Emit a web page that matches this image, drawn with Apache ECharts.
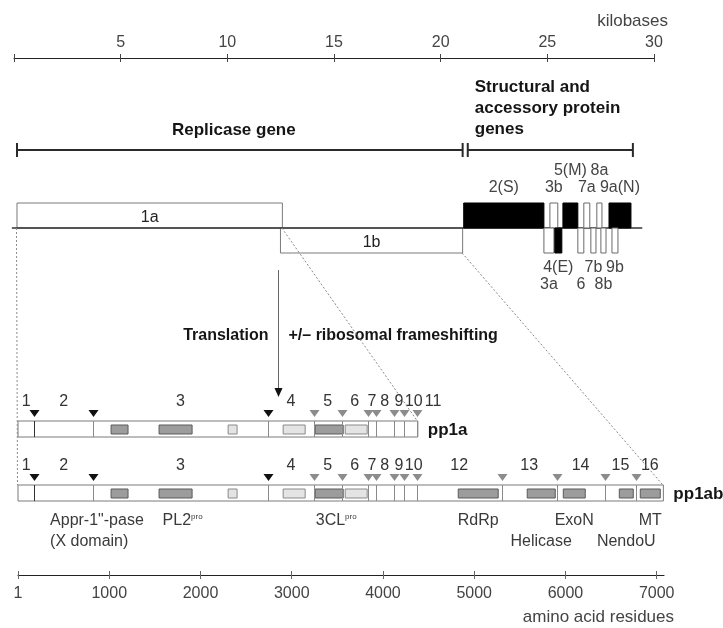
<!DOCTYPE html>
<html><head><meta charset="utf-8">
<script src="https://cdn.jsdelivr.net/npm/echarts@6/dist/echarts.min.js"></script>
<style>html,body{margin:0;padding:0;background:#fff}#c{width:723px;height:628px}</style>
</head><body><div id="c"></div>
<script>
// ================= DATA =================
// top genome axis (kilobases)
const kbTicks = [0, 5, 10, 15, 20, 25, 30];
// bottom protein axis (amino acid residues)
const aaTicks = [0, 1000, 2000, 3000, 4000, 5000, 6000, 7000];
const aaTickLabels = ['1', '1000', '2000', '3000', '4000', '5000', '6000', '7000'];

// genome (kb)
const genomeLine = [-0.1, 29.45];
const orfNames = ['1a', '1b'];
const orfStart = [0.14, 12.49];
const orfEnd = [12.58, 21.03];
const orfSide = ['up', 'down'];

const bracketNames = ['Replicase gene', 'Structural and\naccessory protein\ngenes'];
const bracketStart = [0.14, 21.27];
const bracketEnd = [21.03, 29.01];

const sgNames  = ['2(S)', '3b', '5(M)', '7a', '8a', '9a(N)', '3a', '4(E)', '6', '7b', '8b', '9b'];
const sgStart  = [21.08, 25.12, 25.73, 26.71, 27.32, 27.89, 24.84, 25.35, 26.43, 27.04, 27.51, 28.03];
const sgEnd    = [24.84, 25.49, 26.43, 26.99, 27.56, 28.92, 25.31, 25.68, 26.71, 27.28, 27.75, 28.31];
const sgSide   = ['up', 'up', 'up', 'up', 'up', 'up', 'down', 'down', 'down', 'down', 'down', 'down'];
const sgFilled = [1, 0, 1, 0, 0, 1, 0, 1, 0, 0, 0, 0];
const sgTier   = [0, 0, 1, 0, 1, 0, 1, 0, 1, 0, 1, 0];

// polyproteins (aa)
const nspNames = ['1','2','3','4','5','6','7','8','9','10','11','12','13','14','15','16'];
const nspStart = [1, 181, 819, 2741, 3241, 3547, 3837, 3920, 4118, 4231, 4370, 4370, 5302, 5903, 6430, 6776];
const nspEnd   = [180, 818, 2740, 3240, 3546, 3836, 3919, 4117, 4230, 4369, 4382, 5301, 5902, 6429, 6775, 7073];
const ppNames = ['pp1a', 'pp1ab'];
const ppLength = [4382, 7073];
const ppNsps = [[0,1,2,3,4,5,6,7,8,9,10], [0,1,2,3,4,5,6,7,8,9,11,12,13,14,15]];
const plproSites = [180, 818, 2740];
const mproSites = [3240, 3546, 3836, 3919, 4117, 4230, 4369, 5301, 5902, 6429, 6775];

const domainStart = [1020, 1546, 2303, 2906, 3257, 3586, 4825, 5581, 5976, 6590, 6820];
const domainEnd   = [1206, 1908, 2401, 3147, 3564, 3827, 5263, 5888, 6217, 6743, 7039];
const domainShade = ['dark','dark','light','light','dark','light','dark','dark','dark','dark','dark'];

const domainLabelText = ['Appr-1"-pase', '(X domain)', 'PL2', '3CL', 'RdRp', 'Helicase', 'ExoN', 'NendoU', 'MT'];
const domainLabelSup  = ['', '', 'pro', 'pro', '', '', '', '', ''];
const domainLabelOf   = [0, 0, 1, 4, 6, 7, 8, 9, 10];
const domainLabelLine = [0, 1, 0, 0, 0, 1, 0, 1, 0];

// ================= LAYOUT / STYLE =================
const FONT = "Arial, 'Liberation Sans', Helvetica, sans-serif";
const GRAY_TXT = '#3a3a3a';
const BOLD_TXT = '#151515';
const KB_LEFT = 14, KB_WIDTH = 640;
const AA_LEFT = 18, AA_WIDTH = 646, AA_MAX = 7080;
const PX_PER_AA = AA_WIDTH / AA_MAX;
const Y = {
  bracket: 150, bracketLabel: 130, structText: 77,
  geneTop: 203, base: 228, geneBottom: 253,
  upLabel: [188, 171], downLabel: [268, 285],
  arrowTop: 270, arrowTip: 397, transText: 336,
  rowTop: [421, 485], rowH: 16, numLabel: [402, 466],
  domLabel: [521, 542]
};

function txt(x, y, text, o) {
  o = o || {};
  return {
    type: 'text', x: x, y: y,
    style: Object.assign({
      text: text, fill: o.fill || GRAY_TXT, fontSize: o.size || 16, fontFamily: FONT,
      fontWeight: o.weight || 'normal', align: o.align || 'center', verticalAlign: o.va || 'middle'
    }, o.extra || {})
  };
}

const series = [];
const KB = {xAxisIndex: 2, yAxisIndex: 1};
const AA = {xAxisIndex: 3, yAxisIndex: 2};

// genome baseline
series.push(Object.assign({
  type: 'custom', z: 6, data: [genomeLine],
  renderItem: function (p, api) {
    const a = api.coord([api.value(0), Y.base])[0], b = api.coord([api.value(1), Y.base])[0];
    return {type: 'line', shape: {x1: a, y1: Y.base, x2: b, y2: Y.base}, style: {stroke: '#333', lineWidth: 1.5}};
  }
}, KB));

// ORF 1a / 1b boxes
series.push(Object.assign({
  type: 'custom', z: 5,
  data: orfNames.map(function (n, i) { return [orfStart[i], orfEnd[i], i]; }),
  renderItem: function (p, api) {
    const i = api.value(2);
    const a = api.coord([api.value(0), 0])[0], b = api.coord([api.value(1), 0])[0];
    const top = orfSide[i] === 'up' ? Y.geneTop : Y.base;
    const h = orfSide[i] === 'up' ? Y.base - Y.geneTop : Y.geneBottom - Y.base;
    return {type: 'group', children: [
      {type: 'rect', shape: {x: a, y: top, width: b - a, height: h}, style: {fill: '#fff', stroke: '#7a7a7a', lineWidth: 1}},
      txt((a + b) / 2, top + h / 2 + 2, orfNames[i], {size: 16, fill: '#222'})
    ]};
  }
}, KB));

// brackets
series.push(Object.assign({
  type: 'custom', z: 5,
  data: bracketNames.map(function (n, i) { return [bracketStart[i], bracketEnd[i], i]; }),
  renderItem: function (p, api) {
    const i = api.value(2);
    const a = api.coord([api.value(0), 0])[0], b = api.coord([api.value(1), 0])[0];
    const st = {stroke: '#2a2a2a', lineWidth: 2};
    const ch = [
      {type: 'line', shape: {x1: a, y1: Y.bracket, x2: b, y2: Y.bracket}, style: st},
      {type: 'line', shape: {x1: a, y1: Y.bracket - 7, x2: a, y2: Y.bracket + 7}, style: st},
      {type: 'line', shape: {x1: b, y1: Y.bracket - 7, x2: b, y2: Y.bracket + 7}, style: st}
    ];
    if (i === 0) {
      ch.push(txt((a + b) / 2 - 6, Y.bracketLabel, bracketNames[i], {size: 17, weight: 'bold', fill: BOLD_TXT}));
    } else {
      ch.push(txt(a + 7, Y.structText, bracketNames[i], {size: 17, weight: 'bold', fill: BOLD_TXT, align: 'left', va: 'top', extra: {lineHeight: 21}}));
    }
    return {type: 'group', children: ch};
  }
}, KB));

// structural / accessory genes
series.push(Object.assign({
  type: 'custom', z: 7,
  data: sgNames.map(function (n, i) { return [sgStart[i], sgEnd[i], i]; }),
  renderItem: function (p, api) {
    const i = api.value(2);
    const a = api.coord([api.value(0), 0])[0], b = api.coord([api.value(1), 0])[0];
    const up = sgSide[i] === 'up';
    const top = up ? Y.geneTop : Y.base;
    const h = up ? Y.base - Y.geneTop : Y.geneBottom - Y.base;
    const ly = up ? Y.upLabel[sgTier[i]] : Y.downLabel[sgTier[i]];
    return {type: 'group', children: [
      {type: 'rect', shape: {x: a, y: top, width: b - a, height: h},
        style: {fill: sgFilled[i] ? '#000' : '#fff', stroke: sgFilled[i] ? '#000' : '#6a6a6a', lineWidth: 1}},
      txt((a + b) / 2, ly, sgNames[i], {size: 16, fill: '#444'})
    ]};
  }
}, KB));

// translation arrow
series.push(Object.assign({
  type: 'custom', z: 5, data: [[orfEnd[0], 0]],
  renderItem: function (p, api) {
    const x = Math.round(api.coord([api.value(0), 0])[0] - 4) + 0.5;
    return {type: 'group', children: [
      {type: 'line', shape: {x1: x, y1: Y.arrowTop, x2: x, y2: Y.arrowTip - 6}, style: {stroke: '#666', lineWidth: 1}},
      {type: 'polygon', shape: {points: [[x - 4, Y.arrowTip - 9], [x + 4, Y.arrowTip - 9], [x, Y.arrowTip]]}, style: {fill: '#111'}},
      txt(x - 10, Y.transText, 'Translation', {size: 16, weight: 'bold', fill: BOLD_TXT, align: 'right'}),
      txt(x + 10, Y.transText, '+/\u2013 ribosomal frameshifting', {size: 16, weight: 'bold', fill: BOLD_TXT, align: 'left'})
    ]};
  }
}, KB));

// polyprotein boxes
series.push(Object.assign({
  type: 'custom', z: 5,
  data: ppNames.map(function (n, r) { return [0, ppLength[r], r]; }),
  renderItem: function (p, api) {
    const r = api.value(2);
    const a = api.coord([api.value(0), 0])[0], b = api.coord([api.value(1), 0])[0];
    return {type: 'group', children: [
      {type: 'rect', shape: {x: a, y: Y.rowTop[r], width: b - a, height: Y.rowH}, style: {fill: '#fff', stroke: '#7a7a7a', lineWidth: 1}},
      txt(b + 10, Y.rowTop[r] + Y.rowH / 2 + 1, ppNames[r], {size: 17, weight: 'bold', fill: BOLD_TXT, align: 'left'})
    ]};
  }
}, AA));

// domain boxes
const domainData = [];
ppNames.forEach(function (n, r) {
  domainStart.forEach(function (s, d) { if (domainEnd[d] <= ppLength[r]) domainData.push([s, domainEnd[d], r, d]); });
});
series.push(Object.assign({
  type: 'custom', z: 6, data: domainData,
  renderItem: function (p, api) {
    const r = api.value(2), d = api.value(3);
    const a = api.coord([api.value(0), 0])[0], b = api.coord([api.value(1), 0])[0];
    const dark = domainShade[d] === 'dark';
    return {type: 'rect', shape: {x: a, y: Y.rowTop[r] + 4, width: b - a, height: Y.rowH - 7},
      style: {fill: dark ? '#9c9c9c' : '#e4e4e4', stroke: dark ? '#5a5a5a' : '#8a8a8a', lineWidth: 1}};
  }
}, AA));

// cleavage sites
const siteData = [];
ppNames.forEach(function (n, r) {
  plproSites.forEach(function (s) { if (s < ppLength[r]) siteData.push([s, r, 0]); });
  mproSites.forEach(function (s) { if (s < ppLength[r]) siteData.push([s, r, 1]); });
});
series.push(Object.assign({
  type: 'custom', z: 7, data: siteData,
  renderItem: function (p, api) {
    const r = api.value(1), k = api.value(2);
    const x = Math.round(api.coord([api.value(0), 0])[0]) + 0.5;
    const t = Y.rowTop[r];
    return {type: 'group', children: [
      {type: 'line', shape: {x1: x, y1: t, x2: x, y2: t + Y.rowH}, style: {stroke: k === 0 && api.value(0) < 200 ? '#333' : '#8a8a8a', lineWidth: 1}},
      {type: 'polygon', shape: {points: [[x - 5, t - 11], [x + 5, t - 11], [x, t - 4]]}, style: {fill: k === 0 ? '#111' : '#8c8c8c'}}
    ]};
  }
}, AA));

// nsp number labels (spread to avoid overlap)
const numData = [];
ppNsps.forEach(function (list, r) {
  let prevX = -1e9, prevW = 0;
  list.forEach(function (i) {
    const w = nspNames[i].length * 8.9 / PX_PER_AA;
    const gap = 1.5 / PX_PER_AA;
    let x = (nspStart[i] + nspEnd[i]) / 2;
    const minX = prevX + prevW / 2 + w / 2 + gap;
    if (x < minX) x = minX;
    numData.push([x, r, i]);
    prevX = x; prevW = w;
  });
});
series.push(Object.assign({
  type: 'custom', z: 7, data: numData,
  renderItem: function (p, api) {
    const x = api.coord([api.value(0), 0])[0];
    return txt(x, Y.numLabel[api.value(1)], nspNames[api.value(2)], {size: 16, fill: '#333'});
  }
}, AA));

// domain labels
series.push(Object.assign({
  type: 'custom', z: 7,
  data: domainLabelText.map(function (t, j) { return [domainStart[domainLabelOf[j]], domainEnd[domainLabelOf[j]], j]; }),
  renderItem: function (p, api) {
    const j = api.value(2);
    const a = api.coord([api.value(0), 0])[0], b = api.coord([api.value(1), 0])[0];
    const y = Y.domLabel[domainLabelLine[j]];
    const rich = {m: {fontSize: 16, fontFamily: FONT, fill: '#3a3a3a'}, s: {fontSize: 8, fontFamily: FONT, fill: '#3a3a3a', padding: [0, 0, 8, 0]}};
    const text = '{m|' + domainLabelText[j] + '}' + (domainLabelSup[j] ? '{s|' + domainLabelSup[j] + '}' : '');
    if (domainLabelOf[j] === 0) {
      return {type: 'text', x: a - 61, y: y, style: {text: text, rich: rich, align: 'left', verticalAlign: 'middle'}};
    }
    const dx = domainLabelSup[j] ? 7 : 0;
    return {type: 'text', x: (a + b) / 2 + dx, y: y, style: {text: text, rich: rich, align: 'center', verticalAlign: 'middle'}};
  }
}, AA));

const axisLine = {show: true, lineStyle: {color: '#222', width: 1.2}};
const hiddenX = {type: 'value', show: false};
const option = {
  animation: false,
  backgroundColor: '#fff',
  grid: [
    {left: KB_LEFT, width: KB_WIDTH, top: 57, height: 1},
    {left: KB_LEFT, width: KB_WIDTH, top: 0, height: 628},
    {left: AA_LEFT, width: AA_WIDTH, top: 0, height: 628},
    {left: AA_LEFT, width: AA_WIDTH, top: 574, height: 1}
  ],
  xAxis: [
    {gridIndex: 0, type: 'value', position: 'top', min: 0, max: 30, interval: 5,
      axisLine: axisLine, splitLine: {show: false},
      axisTick: {show: true, length: 4, lineStyle: {color: '#444'}, customValues: kbTicks},
      axisLabel: {show: true, margin: 6, fontSize: 16, fontFamily: FONT, color: '#444', customValues: kbTicks,
        formatter: function (v) { return v === 0 ? '' : String(v); }}},
    {gridIndex: 0, type: 'value', position: 'bottom', min: 0, max: 30, interval: 5,
      axisLine: {show: false}, splitLine: {show: false},
      axisTick: {show: true, length: 4, lineStyle: {color: '#444'}, customValues: kbTicks}, axisLabel: {show: false}},
    Object.assign({gridIndex: 1, min: 0, max: 30}, hiddenX),
    Object.assign({gridIndex: 2, min: 0, max: AA_MAX}, hiddenX),
    {gridIndex: 3, type: 'value', position: 'top', min: 0, max: AA_MAX,
      axisLine: {show: false}, splitLine: {show: false},
      axisTick: {show: true, length: 4, lineStyle: {color: '#666'}, customValues: aaTicks}, axisLabel: {show: false}},
    {gridIndex: 3, type: 'value', position: 'bottom', min: 0, max: AA_MAX,
      axisLine: axisLine, splitLine: {show: false},
      axisTick: {show: true, length: 4, lineStyle: {color: '#666'}, customValues: aaTicks},
      axisLabel: {show: true, margin: 11, fontSize: 16, fontFamily: FONT, color: '#444', customValues: aaTicks,
        formatter: function (v) { const k = aaTicks.indexOf(v); return k >= 0 ? aaTickLabels[k] : ''; }}}
  ],
  yAxis: [
    {gridIndex: 0, type: 'value', show: false, min: 0, max: 1},
    {gridIndex: 1, type: 'value', show: false, min: 0, max: 628, inverse: true},
    {gridIndex: 2, type: 'value', show: false, min: 0, max: 628, inverse: true},
    {gridIndex: 3, type: 'value', show: false, min: 0, max: 1}
  ],
  series: series,
  graphic: [
    txt(668, 21, 'kilobases', {size: 17, fill: '#444', align: 'right'}),
    txt(674, 617, 'amino acid residues', {size: 17, fill: '#444', align: 'right'})
  ]
};

const chart = echarts.init(document.getElementById('c'), null, {renderer: 'canvas'});
chart.setOption(option);

// dotted projection lines from genome to polyproteins (drawn above the boxes)
function pk(v) { return chart.convertToPixel({xAxisIndex: 2, yAxisIndex: 1}, v); }
function pa(v) { return chart.convertToPixel({xAxisIndex: 3, yAxisIndex: 2}, v); }
const links = [
  [pk([orfStart[0], Y.base]), pa([0, Y.rowTop[1]])],
  [pk([orfEnd[0], Y.base]), pa([ppLength[0], Y.rowTop[0]])],
  [pk([orfEnd[1], Y.geneBottom]), pa([ppLength[1], Y.rowTop[1]])]
];
chart.setOption({graphic: option.graphic.concat(links.map(function (l) {
  return {type: 'line', z: 100, shape: {x1: l[0][0] - 0.5, y1: l[0][1], x2: l[1][0] - 0.5, y2: l[1][1]},
    style: {stroke: '#8a8a8a', lineWidth: 1, lineDash: [2, 2]}};
}))});
</script>
</body></html>
